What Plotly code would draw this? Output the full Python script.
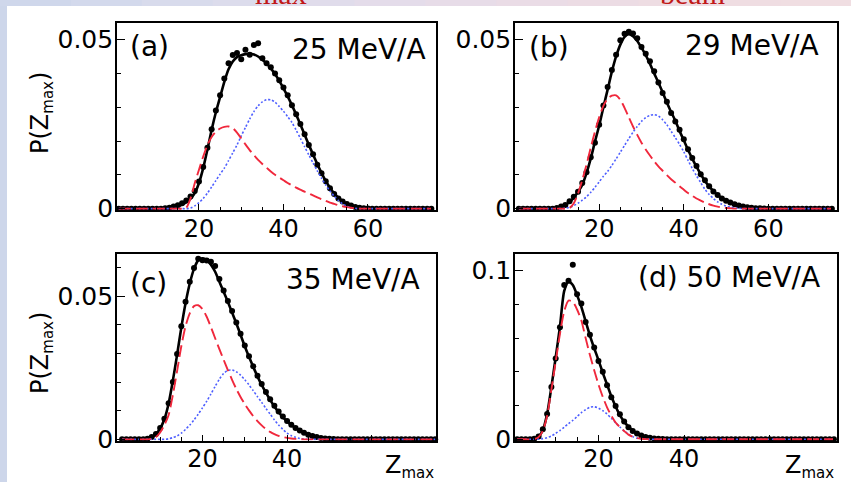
import plotly.graph_objects as go

W, H = 851, 482

# Z_max grid (integer charge values)
Z = list(range(1, 76))

# ---------------- (a) 25 MeV/A ----------------
DATA_A = [0, 0, 0, 0, 0, 0, 0, 0, 0, 0, 0, 0.0001, 0.0003, 0.0006, 0.0010,
          0.0016, 0.0024, 0.0036, 0.0052, 0.0080, 0.0123, 0.0180, 0.0235, 0.0290, 0.0335, 0.0385, 0.0430, 0.0454, 0.0460, 0.0442,
          0.0470, 0.0455, 0.0484, 0.0489, 0.0445, 0.0430, 0.0418, 0.0400, 0.0380, 0.0358, 0.0335, 0.0306, 0.0279, 0.0250, 0.0220,
          0.0188, 0.0161, 0.0130, 0.0105, 0.0081, 0.0060, 0.0043, 0.0030, 0.0021, 0.0014, 0.0009, 0.0005, 0.0003, 0.00015, 0.00008,
          0, 0, 0, 0, 0, 0, 0, 0, 0, 0, 0, 0, 0, 0, 0]
TOT_A = [0, 0, 0, 0, 0, 0, 0, 0, 0, 0, 0, 0.00005, 0.0002, 0.0004, 0.0007,
         0.0012, 0.0019, 0.0030, 0.0046, 0.0076, 0.0120, 0.0175, 0.0233, 0.0285, 0.0330, 0.0375, 0.0412, 0.0435, 0.0448, 0.0454,
         0.0457, 0.0458, 0.0456, 0.0450, 0.0440, 0.0429, 0.0415, 0.0398, 0.0378, 0.0356, 0.0332, 0.0306, 0.0278, 0.0249, 0.0219,
         0.0189, 0.0160, 0.0132, 0.0106, 0.0082, 0.0062, 0.0045, 0.0032, 0.0022, 0.0015, 0.0010, 0.0006, 0.00035, 0.0002, 0.0001,
         0, 0, 0, 0, 0, 0, 0, 0, 0, 0, 0, 0, 0, 0, 0]
RED_A = [0, 0, 0, 0, 0, 0, 0, 0, 0, 0, 0, 0, 0, 0, 0,
         0, 0.0003, 0.0030, 0.0075, 0.0115, 0.0154, 0.0188, 0.0212, 0.0228, 0.0237, 0.0242, 0.0243, 0.0238, 0.0225, 0.0208,
         0.0190, 0.0173, 0.0158, 0.0144, 0.0132, 0.0121, 0.0110, 0.0100, 0.0092, 0.0084, 0.0076, 0.0069, 0.0062, 0.0056, 0.0050,
         0.0045, 0.0039, 0.0033, 0.0028, 0.0023, 0.0018, 0.0014, 0.0010, 0.0007, 0.00045, 0.00025, 0.0001, 0, 0, 0,
         0, 0, 0, 0, 0, 0, 0, 0, 0, 0, 0, 0, 0, 0, 0]
BLUE_A = [0, 0, 0, 0, 0, 0, 0, 0, 0, 0, 0, 0, 0, 0, 0,
          0, 0, 0.0002, 0.0008, 0.0018, 0.0030, 0.0046, 0.0064, 0.0083, 0.0102, 0.0120, 0.0142, 0.0165, 0.0188, 0.0215,
          0.0240, 0.0265, 0.0287, 0.0304, 0.0316, 0.0322, 0.0322, 0.0315, 0.0302, 0.0288, 0.0272, 0.0255, 0.0232, 0.0208, 0.0183,
          0.0159, 0.0135, 0.0112, 0.0090, 0.0070, 0.0052, 0.0037, 0.0024, 0.0014, 0.0007, 0.0003, 0.0001, 0, 0, 0,
          0, 0, 0, 0, 0, 0, 0, 0, 0, 0, 0, 0, 0, 0, 0]

# ---------------- (b) 29 MeV/A ----------------
DATA_B = [0, 0, 0, 0, 0, 0, 0, 0, 0, 0.0002, 0.0006, 0.0011, 0.0022, 0.0035, 0.0050,
          0.0076, 0.0108, 0.0152, 0.0195, 0.0248, 0.0305, 0.0360, 0.0410, 0.0455, 0.0498, 0.0517, 0.0523, 0.0518, 0.0504, 0.0478,
          0.0458, 0.0436, 0.0406, 0.0373, 0.0342, 0.0316, 0.0283, 0.0258, 0.0233, 0.0205, 0.0176, 0.0150, 0.0126, 0.0102, 0.0084,
          0.0066, 0.0051, 0.0040, 0.0030, 0.0023, 0.0018, 0.0013, 0.0009, 0.0006, 0.0004, 0.00025, 0.00015, 0.0001, 0.00005, 0,
          0, 0, 0, 0, 0, 0, 0, 0, 0, 0, 0, 0, 0, 0, 0]
TOT_B = [0, 0, 0, 0, 0, 0, 0, 0, 0, 0.0002, 0.0005, 0.0010, 0.0020, 0.0032, 0.0050,
         0.0070, 0.0105, 0.0148, 0.0198, 0.0246, 0.0300, 0.0352, 0.0405, 0.0450, 0.0485, 0.0508, 0.0516, 0.0510, 0.0496, 0.0476,
         0.0454, 0.0428, 0.0400, 0.0373, 0.0344, 0.0314, 0.0286, 0.0260, 0.0230, 0.0202, 0.0174, 0.0148, 0.0124, 0.0102, 0.0082,
         0.0066, 0.0052, 0.0040, 0.0031, 0.0025, 0.0019, 0.0014, 0.0010, 0.0007, 0.00045, 0.0003, 0.0002, 0.0001, 0.00005, 0,
         0, 0, 0, 0, 0, 0, 0, 0, 0, 0, 0, 0, 0, 0, 0]
RED_B = [0, 0, 0, 0, 0, 0, 0, 0, 0, 0, 0, 0, 0.0002, 0.0016, 0.0045,
         0.0085, 0.0130, 0.0180, 0.0228, 0.0270, 0.0304, 0.0325, 0.0334, 0.0335, 0.0322, 0.0298, 0.0270, 0.0243, 0.0218, 0.0195,
         0.0175, 0.0157, 0.0140, 0.0125, 0.0112, 0.0099, 0.0087, 0.0077, 0.0066, 0.0056, 0.0046, 0.0038, 0.0030, 0.0024, 0.0018,
         0.0013, 0.0009, 0.0006, 0.00035, 0.0002, 0.0001, 0, 0, 0, 0, 0, 0, 0, 0, 0,
         0, 0, 0, 0, 0, 0, 0, 0, 0, 0, 0, 0, 0, 0, 0]
BLUE_B = [0, 0, 0, 0, 0, 0, 0, 0, 0, 0, 0, 0.0001, 0.0004, 0.0009, 0.0016,
          0.0025, 0.0035, 0.0048, 0.0063, 0.0079, 0.0096, 0.0110, 0.0128, 0.0147, 0.0167, 0.0187, 0.0207, 0.0226, 0.0243, 0.0258,
          0.0269, 0.0276, 0.0278, 0.0274, 0.0263, 0.0248, 0.0229, 0.0210, 0.0190, 0.0168, 0.0143, 0.0119, 0.0097, 0.0077, 0.0057,
          0.0042, 0.0030, 0.0020, 0.0013, 0.0008, 0.00045, 0.0002, 0.0001, 0, 0, 0, 0, 0, 0, 0,
          0, 0, 0, 0, 0, 0, 0, 0, 0, 0, 0, 0, 0, 0, 0]

# ---------------- (c) 35 MeV/A ----------------
DATA_C = [0, 0, 0, 0, 0, 0, 0.0002, 0.0008, 0.0019, 0.0040, 0.0072, 0.0126, 0.0200, 0.0298, 0.0395,
          0.0480, 0.0550, 0.0598, 0.0630, 0.0625, 0.0624, 0.0620, 0.0605, 0.0560, 0.0520, 0.0483, 0.0448, 0.0408, 0.0369, 0.0328,
          0.0290, 0.0255, 0.0222, 0.0193, 0.0165, 0.0140, 0.0117, 0.0097, 0.0080, 0.0064, 0.0051, 0.0040, 0.0031, 0.0023, 0.0016,
          0.0012, 0.0008, 0.0005, 0.0003, 0.0002, 0.0001, 0, 0, 0, 0, 0, 0, 0, 0, 0,
          0, 0, 0, 0, 0, 0, 0, 0, 0, 0, 0, 0, 0, 0, 0]
TOT_C = [0, 0, 0, 0, 0, 0, 0.0002, 0.0007, 0.0018, 0.0038, 0.0070, 0.0125, 0.0205, 0.0295, 0.0390,
         0.0475, 0.0544, 0.0595, 0.0625, 0.0632, 0.0626, 0.0610, 0.0585, 0.0550, 0.0515, 0.0480, 0.0443, 0.0405, 0.0365, 0.0325,
         0.0288, 0.0253, 0.0220, 0.0190, 0.0163, 0.0138, 0.0115, 0.0095, 0.0078, 0.0063, 0.0050, 0.0040, 0.0030, 0.0022, 0.0016,
         0.0011, 0.00075, 0.0005, 0.0003, 0.0002, 0.0001, 0.00005, 0, 0, 0, 0, 0, 0, 0, 0,
         0, 0, 0, 0, 0, 0, 0, 0, 0, 0, 0, 0, 0, 0, 0]
RED_C = [0, 0, 0, 0, 0, 0, 0, 0.0002, 0.0008, 0.0024, 0.0050, 0.0085, 0.0155, 0.0238, 0.0325,
         0.0395, 0.0440, 0.0465, 0.0468, 0.0455, 0.0428, 0.0392, 0.0353, 0.0315, 0.0278, 0.0242, 0.0208, 0.0176, 0.0148, 0.0123,
         0.0101, 0.0081, 0.0064, 0.0049, 0.0036, 0.0026, 0.0018, 0.0012, 0.0008, 0.0005, 0.0003, 0.00015, 0.00005, 0, 0,
         0, 0, 0, 0, 0, 0, 0, 0, 0, 0, 0, 0, 0, 0, 0,
         0, 0, 0, 0, 0, 0, 0, 0, 0, 0, 0, 0, 0, 0, 0]
BLUE_C = [0, 0, 0, 0, 0, 0, 0, 0, 0, 0, 0, 0.0002, 0.0006, 0.0012, 0.0022,
          0.0035, 0.0050, 0.0068, 0.0088, 0.0110, 0.0133, 0.0158, 0.0185, 0.0210, 0.0230, 0.0241, 0.0242, 0.0236, 0.0224, 0.0208,
          0.0190, 0.0170, 0.0149, 0.0129, 0.0108, 0.0088, 0.0068, 0.0050, 0.0035, 0.0022, 0.0013, 0.0007, 0.0003, 0.0001, 0,
          0, 0, 0, 0, 0, 0, 0, 0, 0, 0, 0, 0, 0, 0, 0,
          0, 0, 0, 0, 0, 0, 0, 0, 0, 0, 0, 0, 0, 0, 0]

# ---------------- (d) 50 MeV/A ----------------
DATA_D = [0, 0, 0, 0, 0.0003, 0.0016, 0.0060, 0.0150, 0.0310, 0.0480, 0.0665, 0.0915, 0.0940, 0.1035, 0.0860,
          0.0805, 0.0695, 0.0620, 0.0545, 0.0465, 0.0400, 0.0320, 0.0250, 0.0198, 0.0148, 0.0105, 0.0072, 0.0050, 0.0034, 0.0022,
          0.0014, 0.0009, 0.0005, 0.0003, 0.00015, 0.00008, 0, 0, 0, 0, 0, 0, 0, 0, 0,
          0, 0, 0, 0, 0, 0, 0, 0, 0, 0, 0, 0, 0, 0, 0,
          0, 0, 0, 0, 0, 0, 0, 0, 0, 0, 0, 0, 0, 0, 0]
TOT_D = [0, 0, 0, 0, 0.0003, 0.0015, 0.0055, 0.0150, 0.0310, 0.0485, 0.0668, 0.0880, 0.0935, 0.0915, 0.0855,
         0.0785, 0.0700, 0.0615, 0.0540, 0.0470, 0.0395, 0.0325, 0.0255, 0.0195, 0.0144, 0.0105, 0.0075, 0.0052, 0.0035, 0.0023,
         0.0015, 0.0009, 0.0005, 0.0003, 0.00015, 0.00005, 0, 0, 0, 0, 0, 0, 0, 0, 0,
         0, 0, 0, 0, 0, 0, 0, 0, 0, 0, 0, 0, 0, 0, 0,
         0, 0, 0, 0, 0, 0, 0, 0, 0, 0, 0, 0, 0, 0, 0]
RED_D = [0, 0, 0, 0, 0.0002, 0.0013, 0.0050, 0.0140, 0.0295, 0.0460, 0.0625, 0.0760, 0.0823, 0.0815, 0.0770,
         0.0705, 0.0600, 0.0500, 0.0410, 0.0325, 0.0252, 0.0190, 0.0140, 0.0100, 0.0072, 0.0049, 0.0028, 0.0015, 0.0007, 0.0003,
         0.0001, 0, 0, 0, 0, 0, 0, 0, 0, 0, 0, 0, 0, 0, 0,
         0, 0, 0, 0, 0, 0, 0, 0, 0, 0, 0, 0, 0, 0, 0,
         0, 0, 0, 0, 0, 0, 0, 0, 0, 0, 0, 0, 0, 0, 0]
BLUE_D = [0, 0, 0, 0, 0, 0.0001, 0.0004, 0.0010, 0.0020, 0.0035, 0.0052, 0.0072, 0.0093, 0.0112, 0.0135,
          0.0158, 0.0176, 0.0190, 0.0193, 0.0185, 0.0170, 0.0150, 0.0125, 0.0098, 0.0073, 0.0050, 0.0031, 0.0016, 0.0007, 0.0003,
          0.0001, 0, 0, 0, 0, 0, 0, 0, 0, 0, 0, 0, 0, 0, 0,
          0, 0, 0, 0, 0, 0, 0, 0, 0, 0, 0, 0, 0, 0, 0,
          0, 0, 0, 0, 0, 0, 0, 0, 0, 0, 0, 0, 0, 0, 0]

ENERGY_LABELS = ["25 MeV/A", "29 MeV/A", "35 MeV/A", "(d) 50 MeV/A"]
PANEL_TAGS = ["(a)", "(b)", "(c)", None]
X_TICKS = [20, 40, 60]
X_TICKTEXT_TOP = ["20", "40", "60"]
X_TICKTEXT_BOTTOM = ["20", "40", " "]

for arr in [DATA_A, TOT_A, RED_A, BLUE_A, DATA_B, TOT_B, RED_B, BLUE_B,
            DATA_C, TOT_C, RED_C, BLUE_C, DATA_D, TOT_D, RED_D, BLUE_D]:
    assert len(arr) == len(Z), len(arr)

FONT = "DejaVu Sans"
BLACK = "#000000"
RED = "#f0283c"
BLUE = "#4d5eff"
STRIP = "#cdd6ea"


def px_x(p):
    return p / W


def px_y(p):
    return 1 - p / H


# frame boxes in pixels: (left, right, top, bottom)
FRAMES = [(117, 436, 23, 210), (515, 836.5, 23, 210),
          (117, 436, 254, 440.5), (515, 836.5, 254, 440.5)]
XRANGES = [[0.6, 76.1], [0.1, 76.1], [-0.2, 75.2], [0.5, 75.6]]
YRANGES = [[-0.0004, 0.0549], [-0.0004, 0.0549], [-0.0004, 0.0647], [-0.0007, 0.1099]]
YTICKS = [[0, 0.05], [0, 0.05], [0, 0.05], [0, 0.1]]
YTICKTEXT = [["0", "0.05"], ["0", "0.05"], ["0", "0.05"], ["0", "0.1"]]
YMINOR = [0.01, 0.01, 0.01, 0.02]

SERIES = [(DATA_A, TOT_A, RED_A, BLUE_A), (DATA_B, TOT_B, RED_B, BLUE_B),
          (DATA_C, TOT_C, RED_C, BLUE_C), (DATA_D, TOT_D, RED_D, BLUE_D)]

fig = go.Figure()
layout = {}
for i, (data, tot, red, blue) in enumerate(SERIES):
    n = "" if i == 0 else str(i + 1)
    xa, ya = "x" + n, "y" + n
    fig.add_trace(go.Scatter(x=Z, y=tot, mode="lines", xaxis=xa, yaxis=ya,
                             line=dict(color=BLACK, width=2.6, shape="spline", smoothing=0.7),
                             showlegend=False, hoverinfo="skip"))
    fig.add_trace(go.Scatter(x=Z, y=data, mode="markers", xaxis=xa, yaxis=ya,
                             marker=dict(color=BLACK, size=6), cliponaxis=False,
                             showlegend=False))
    fig.add_trace(go.Scatter(x=Z, y=blue, mode="lines", xaxis=xa, yaxis=ya,
                             line=dict(color=BLUE, width=1.6, dash="2px,2px", shape="spline", smoothing=0.7),
                             showlegend=False, hoverinfo="skip"))
    fig.add_trace(go.Scatter(x=Z, y=red, mode="lines", xaxis=xa, yaxis=ya,
                             line=dict(color=RED, width=1.9, dash="12px,5px", shape="spline", smoothing=0.7),
                             showlegend=False, hoverinfo="skip"))
    l, r, t, b = FRAMES[i]
    layout["xaxis" + n] = dict(
        domain=[px_x(l), px_x(r)], range=XRANGES[i], anchor=ya,
        showline=True, linecolor=BLACK, linewidth=1.6, mirror=True,
        ticks="inside", ticklen=6, tickwidth=1.2, tickcolor=BLACK,
        tickmode="array", tickvals=X_TICKS,
        ticktext=X_TICKTEXT_TOP if i < 2 else X_TICKTEXT_BOTTOM,
        tickfont=dict(family=FONT, size=24, color=BLACK), ticklabelstandoff=-4,
        minor=dict(tickmode="linear", tick0=0, dtick=5, ticks="inside", ticklen=3.5,
                   tickwidth=1, tickcolor=BLACK, showgrid=False),
        showgrid=False, zeroline=False, fixedrange=True, automargin=False)
    layout["yaxis" + n] = dict(
        domain=[px_y(b), px_y(t)], range=YRANGES[i], anchor=xa,
        showline=True, linecolor=BLACK, linewidth=1.6, mirror=True,
        ticks="inside", ticklen=8, tickwidth=1.2, tickcolor=BLACK,
        tickmode="array", tickvals=YTICKS[i], ticktext=YTICKTEXT[i],
        tickfont=dict(family=FONT, size=25, color=BLACK), ticklabelstandoff=-3,
        minor=dict(tickmode="linear", tick0=0, dtick=YMINOR[i], ticks="inside", ticklen=4,
                   tickwidth=1, tickcolor=BLACK, showgrid=False),
        showgrid=False, zeroline=False, fixedrange=True, automargin=False)

annotations = []
# panel tags and energies
TAG_POS = [(128, 47), (527, 48), (128, 283), None]
EN_POS = [(428, 50), (821, 45), (422, 279), (822, 277)]
for i in range(4):
    if TAG_POS[i]:
        annotations.append(dict(text=PANEL_TAGS[i], x=px_x(TAG_POS[i][0]), y=px_y(TAG_POS[i][1]),
                                xref="paper", yref="paper", xanchor="left", yanchor="middle",
                                showarrow=False, font=dict(family=FONT, size=28, color=BLACK)))
    annotations.append(dict(text=ENERGY_LABELS[i], x=px_x(EN_POS[i][0]), y=px_y(EN_POS[i][1]),
                            xref="paper", yref="paper", xanchor="right", yanchor="middle",
                            showarrow=False, font=dict(family=FONT, size=28, color=BLACK)))

SUB = '<sub><span style="font-size:15px">max</span></sub>'
# y titles
for yc in (113, 353):
    annotations.append(dict(text="P(Z" + SUB + ")", x=px_x(41), y=px_y(yc), textangle=-90,
                            xref="paper", yref="paper", xanchor="center", yanchor="middle",
                            showarrow=False, font=dict(family=FONT, size=24, color=BLACK)))
# x titles
for xr in (436, 836):
    annotations.append(dict(text="Z" + SUB, x=px_x(xr), y=px_y(466), xref="paper", yref="paper",
                            xanchor="right", yanchor="middle", showarrow=False,
                            font=dict(family=FONT, size=24, color=BLACK)))

# fragments of the slide title above (cut off by the top edge, as in the slide)
for txt, xc in (("max", 281), ("beam", 692)):
    annotations.append(dict(text=txt, x=px_x(xc), y=px_y(12), xref="paper", yref="paper",
                            xanchor="center", yanchor="bottom", showarrow=False,
                            font=dict(family="Liberation Serif", size=30, color="#c01818")))

shapes = [
    # white slide area
    dict(type="rect", xref="paper", yref="paper", x0=px_x(7), x1=1, y0=0, y1=px_y(6),
         fillcolor="white", line=dict(width=0), layer="below"),
]
TOP_COLORS = ["#cfd7eb", "#d3d9ec", "#d8dbec", "#dcdcec", "#e0dceb", "#e4dcea",
              "#e7dce8", "#eadce6", "#ecdce4", "#eedde3", "#efdde2", "#f0dee2"]
seg = W / len(TOP_COLORS)
for k, c in enumerate(TOP_COLORS):
    shapes.append(dict(type="rect", xref="paper", yref="paper",
                       x0=px_x(k * seg), x1=min(1, px_x((k + 1) * seg + 1)), y0=px_y(6), y1=1,
                       fillcolor=c, line=dict(width=0), layer="below"))

fig.update_layout(
    width=W, height=H, autosize=False,
    margin=dict(l=0, r=0, t=0, b=0, pad=0, autoexpand=False),
    paper_bgcolor=STRIP, plot_bgcolor="white",
    annotations=annotations, shapes=shapes, showlegend=False,
    font=dict(family=FONT, color=BLACK),
    **layout)

fig.write_html("out.html", config={"responsive": False, "displayModeBar": False})
